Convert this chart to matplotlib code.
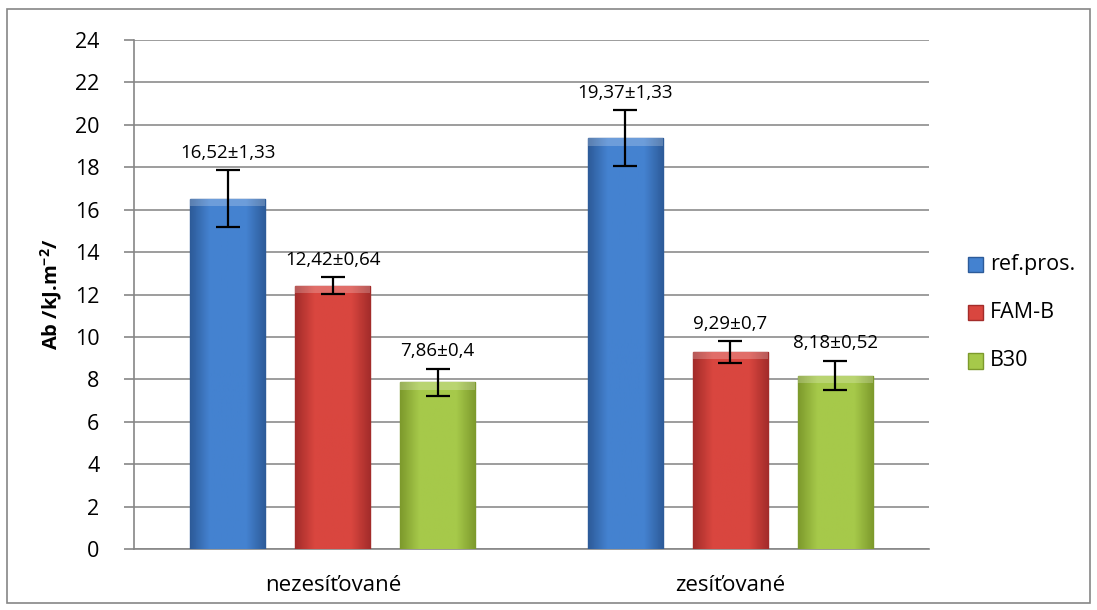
import numpy as np
import matplotlib.pyplot as plt
from matplotlib.patches import Rectangle
from matplotlib.colors import LinearSegmentedColormap

plt.rcParams['font.family'] = ['Open Sans', 'DejaVu Sans']
plt.rcParams['mathtext.fontset'] = 'custom'
plt.rcParams['mathtext.rm'] = 'Open Sans'
plt.rcParams['mathtext.bf'] = 'Open Sans:bold'

# data
categories = ['nezesíťované', 'zesíťované']
series = ['ref.pros.', 'FAM-B', 'B30']
ref_vals = [16.52, 19.37]
famb_vals = [12.42, 9.29]
b30_vals = [7.86, 8.18]
# error bars as drawn in the picture
ref_err = [1.33, 1.33]
famb_err = [0.4, 0.52]
b30_err = [0.64, 0.7]
# data label texts as printed
ref_lbl = ['16,52±1,33', '19,37±1,33']
famb_lbl = ['12,42±0,64', '9,29±0,7']
b30_lbl = ['7,86±0,4', '8,18±0,52']
yticks = list(range(0, 25, 2))

vals = [ref_vals, famb_vals, b30_vals]
errs = [ref_err, famb_err, b30_err]
lbls = [ref_lbl, famb_lbl, b30_lbl]
# (dark edge, light centre) per series
shades = [('#2d5b99', '#4482d0'), ('#a32c2a', '#d9463f'), ('#7d9a2c', '#a6c94a')]

fig = plt.figure(figsize=(10.97, 6.10), dpi=100)
ax = fig.add_axes([0.1222, 0.1, 0.7247, 0.8344])

x = np.arange(len(categories))
offs = [-0.264, 0.0, 0.264]
w = 0.189

for s in range(3):
    dark, light = shades[s]
    cmap = LinearSegmentedColormap.from_list('g', [dark, light, light, light, dark])
    bars = ax.bar(x + offs[s], vals[s], w, color=light, edgecolor=dark,
                  linewidth=1.0, zorder=3)
    grad = np.linspace(0, 1, 64).reshape(1, -1)
    for b in bars:
        x0, y0 = b.get_x(), b.get_y()
        bw, bh = b.get_width(), b.get_height()
        im = ax.imshow(grad, cmap=cmap, aspect='auto', zorder=3.5,
                       extent=[x0, x0 + bw, y0, y0 + bh])
        im.set_clip_path(b)
        # lighter bevel on top
        ax.add_patch(Rectangle((x0, y0 + bh - 0.35), bw, 0.35, color='white',
                               alpha=0.22, zorder=3.6, linewidth=0))
    ax.errorbar(x + offs[s], vals[s], yerr=errs[s], fmt='none', ecolor='black',
                elinewidth=1.6, capsize=8.5, capthick=1.6, zorder=5)
    for i in range(len(categories)):
        ax.annotate(lbls[s][i], (x[i] + offs[s], vals[s][i] + errs[s][i]),
                    xytext=(0, 6), textcoords='offset points', ha='center',
                    va='bottom', fontsize=13.5, zorder=6)

ax.set_xlim(-0.5, 1.5)
ax.set_ylim(0, 24)
ax.set_yticks(yticks)
ax.set_yticklabels([str(t) for t in yticks], fontsize=15.5)
ax.set_xticks(x)
ax.set_xticklabels(categories, fontsize=16)
ax.tick_params(axis='x', length=0, pad=19)
ax.tick_params(axis='y', length=7, color='#868686', width=1.2, pad=18)
ax.yaxis.grid(True, color='#8c8c8c', linewidth=1.2, zorder=0)
ax.set_axisbelow(True)
for sp in ['top', 'right']:
    ax.spines[sp].set_visible(False)
ax.spines['left'].set_color('#868686')
ax.spines['bottom'].set_color('#868686')
ax.spines['left'].set_linewidth(1.2)
ax.spines['bottom'].set_linewidth(1.2)
ax.set_ylabel('Ab /kJ.m$^{\\mathbf{-2}}$/', fontsize=14.5, fontweight='bold', labelpad=8)

# legend
for s in range(3):
    yy = 0.5656 - s * 0.0787
    dark, light = shades[s]
    fig.patches.append(Rectangle((0.8824, yy - 0.0123), 0.0137, 0.0246,
                                 transform=fig.transFigure, facecolor=light,
                                 edgecolor=dark, linewidth=1.0))
    fig.text(0.9025, yy, series[s], fontsize=15.5, va='center', ha='left')

# chart frame
fig.patches.append(Rectangle((0.0065, 0.012), 0.987, 0.974, transform=fig.transFigure,
                             fill=False, edgecolor='#868686', linewidth=1.2))

fig.savefig('out.png', dpi=100)
